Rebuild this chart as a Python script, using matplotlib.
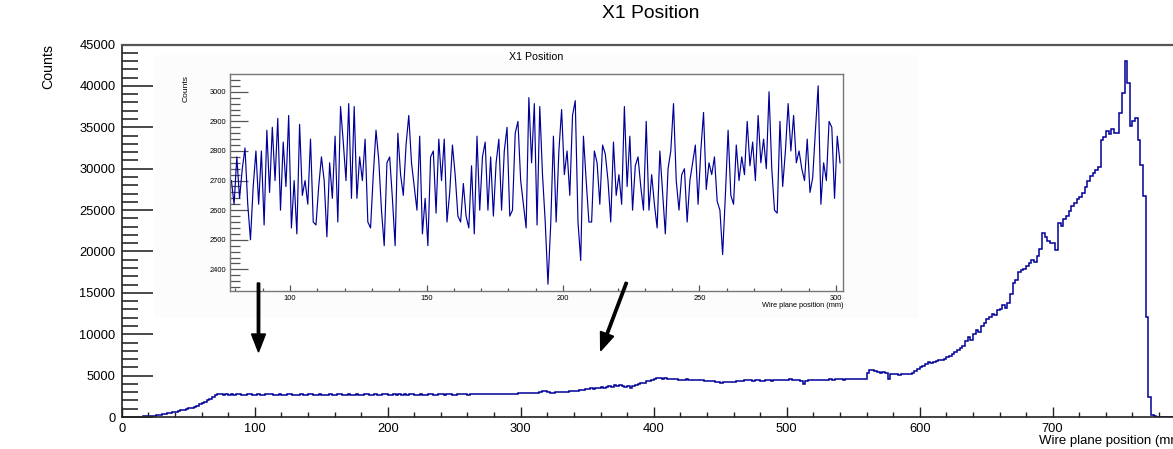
import numpy as np
import matplotlib
matplotlib.use("Agg")
import matplotlib.pyplot as plt
from matplotlib.ticker import MultipleLocator

plt.rcParams['font.family'] = ['Liberation Sans', 'DejaVu Sans']

# ---------------------------------------------------------------
# X1 wire-plane position histogram, 2 mm bins from 0 to 800 mm
# (ten bins per row = 20 mm per row)
# ---------------------------------------------------------------
main_bin_width = 2
main_counts = [
    0, 0, 0, 0, 30, 40, 50, 60, 70, 80,                                   # 0
    100, 110, 150, 200, 260, 330, 390, 450, 520, 600,                      # 20
    660, 730, 800, 880, 960, 1050, 1140, 1250, 1380, 1520,                 # 40
    1680, 1850, 2030, 2230, 2430, 2620, 2720, 2740, 2700, 2720,            # 60
    2680, 2750, 2690, 2730, 2760, 2700, 2670, 2720, 2780, 2710,            # 80
    2690, 2740, 2700, 2660, 2720, 2760, 2730, 2690, 2710, 2750,            # 100
    2700, 2680, 2740, 2770, 2700, 2660, 2700, 2730, 2690, 2710,            # 120
    2750, 2720, 2680, 2700, 2740, 2690, 2650, 2700, 2730, 2710,            # 140
    2680, 2720, 2760, 2700, 2690, 2730, 2680, 2710, 2740, 2700,            # 160
    2670, 2720, 2750, 2690, 2700, 2740, 2710, 2640, 2720, 2760,            # 180
    2700, 2690, 2730, 2710, 2750, 2700, 2720, 2680, 2740, 2770,            # 200
    2710, 2690, 2730, 2700, 2680, 2720, 2750, 2710, 2700, 2740,            # 220
    2720, 2690, 2730, 2760, 2710, 2700, 2740, 2720, 2750, 2730,            # 240
    2700, 2760, 2740, 2720, 2780, 2750, 2730, 2760, 2800, 2740,            # 260
    2770, 2790, 2760, 2800, 2780, 2820, 2790, 2830, 2810, 2850,            # 280
    2860, 2880, 2850, 2900, 2920, 2890, 2950, 2980, 3100, 3180,            # 300
    3000, 2880, 2950, 3000, 3040, 3020, 3080, 3060, 3100, 3120,            # 320
    3150, 3200, 3260, 3300, 3350, 3420, 3470, 3440, 3500, 3560,            # 340
    3590, 3560, 3640, 3700, 3660, 3900, 3750, 3870, 3800, 3670,            # 360
    3720, 3470, 3800, 3870, 3950, 4050, 4150, 4300, 4400, 4480,            # 380
    4550, 4700, 4760, 4650, 4720, 4600, 4560, 4620, 4580, 4500,            # 400
    4520, 4480, 4550, 4470, 4500, 4460, 4480, 4420, 4450, 4400,            # 420
    4380, 4350, 4300, 4280, 4220, 4070, 4200, 4250, 4230, 4280,            # 440
    4270, 4320, 4380, 4350, 4420, 4480, 4450, 4400, 4460, 4420,            # 460
    4380, 4400, 4450, 4420, 4380, 4430, 4480, 4450, 4500, 4480,            # 480
    4520, 4560, 4500, 4450, 4480, 4400, 4000, 4350, 4420, 4480,            # 500
    4480, 4450, 4500, 4520, 4480, 4530, 4560, 4500, 4540, 4580,            # 520
    4560, 4520, 4580, 4560, 4600, 4620, 4580, 4640, 4650, 4620,            # 540
    5300, 5700, 5720, 5600, 5450, 5300, 5450, 5350, 4600, 5250,            # 560
    5150, 5200, 5080, 5250, 5200, 5150, 5250, 5300, 5500, 5800,            # 580
    6000, 6200, 6350, 6690, 6500, 6600, 6750, 6900, 6850, 7000,            # 600
    7240, 7400, 7600, 7900, 8100, 8300, 8600, 9200, 9710, 9300,            # 620
    10000, 10500, 10300, 11000, 11340, 11800, 12100, 12500, 12300, 12940,  # 640
    13100, 13500, 13200, 13750, 14800, 16170, 16600, 17500, 17780, 17900,  # 660
    18200, 18600, 18990, 18700, 19500, 20300, 22220, 21800, 21300, 21000,  # 680
    21010, 20200, 23430, 23100, 23900, 24300, 24900, 25440, 25800, 26300,  # 700
    26600, 27060, 27800, 28500, 29070, 29500, 29880, 30200, 33510, 33800,  # 720
    34600, 34200, 34800, 34300, 34320, 36740, 39160, 42980, 40370, 35120,  # 740
    35800, 36130, 33510, 30500, 26650, 12130, 2460, 240, 100, 60,          # 760
    40, 20, 0, 0, 0, 0, 0, 0, 0, 0,                                        # 780
]
main_edges = np.arange(len(main_counts) + 1) * main_bin_width

# Zoomed view: 1 mm bins from 78 mm to 302 mm
inset_start = 78
inset_counts = [
    2700, 2620, 2780, 2640, 2740, 2810, 2620, 2500, 2680, 2800,   # 78
    2620, 2800, 2550, 2870, 2660, 2880, 2700, 2910, 2600, 2830,   # 88
    2680, 2920, 2540, 2700, 2520, 2890, 2650, 2700, 2620, 2840,   # 98
    2560, 2550, 2680, 2780, 2700, 2510, 2760, 2640, 2850, 2560,   # 108
    2950, 2830, 2700, 2960, 2640, 2950, 2640, 2780, 2700, 2840,   # 118
    2560, 2540, 2720, 2870, 2770, 2600, 2480, 2760, 2780, 2640,   # 128
    2480, 2860, 2720, 2650, 2820, 2920, 2760, 2680, 2600, 2850,   # 138
    2520, 2640, 2480, 2780, 2800, 2590, 2840, 2700, 2840, 2560,   # 148
    2660, 2820, 2720, 2580, 2560, 2690, 2580, 2540, 2750, 2520,   # 158
    2850, 2600, 2780, 2830, 2600, 2780, 2580, 2760, 2840, 2600,   # 168
    2800, 2880, 2580, 2600, 2860, 2900, 2700, 2620, 2540, 2980,   # 178
    2760, 2960, 2550, 2950, 2720, 2560, 2350, 2550, 2850, 2560,   # 188
    2800, 2940, 2720, 2800, 2650, 2920, 2970, 2560, 2430, 2850,   # 198
    2700, 2560, 2560, 2800, 2760, 2620, 2820, 2790, 2700, 2560,   # 208
    2830, 2650, 2720, 2620, 2950, 2680, 2850, 2600, 2750, 2780,   # 218
    2680, 2600, 2900, 2600, 2720, 2620, 2540, 2800, 2660, 2520,   # 228
    2740, 2800, 2960, 2700, 2600, 2720, 2740, 2560, 2700, 2760,   # 238
    2820, 2620, 2800, 2930, 2670, 2760, 2720, 2780, 2630, 2600,   # 248
    2450, 2650, 2870, 2650, 2620, 2820, 2700, 2780, 2720, 2900,   # 258
    2750, 2830, 2700, 2920, 2760, 2840, 2740, 3000, 2740, 2600,   # 268
    2590, 2900, 2680, 2800, 2960, 2800, 2920, 2760, 2800, 2740,   # 278
    2700, 2840, 2660, 2710, 2870, 3020, 2620, 2760, 2700, 2900,   # 288
    2880, 2640, 2850, 2760,                                       # 298
]
inset_centers = inset_start + np.arange(len(inset_counts)) + 0.5

line_color = '#000099'
frame_gray = '#555555'
W, H = 1173, 449

fig = plt.figure(figsize=(W / 100, H / 100), dpi=100, facecolor='white')


def px_box(x0, y0, x1, y1):
    """Convert a pixel box (top-left origin) to figure fractions."""
    return [x0 / W, 1 - y1 / H, (x1 - x0) / W, (y1 - y0) / H]


# ---------------- main histogram ----------------
ax = fig.add_axes(px_box(121.7, 44.5, 1185.7, 417), zorder=0)
ax.stairs(main_counts, main_edges, color=line_color, lw=1.1, baseline=None)
ax.set_xlim(0, 800)
ax.set_ylim(0, 45000)
ax.xaxis.set_major_locator(MultipleLocator(100))
ax.xaxis.set_minor_locator(MultipleLocator(20))
ax.yaxis.set_major_locator(MultipleLocator(5000))
ax.yaxis.set_minor_locator(MultipleLocator(1000))
ax.tick_params(axis='y', which='major', direction='in', length=22.5, width=1.3,
               color='#3a3a3a', labelsize=9.3, pad=4.5)
ax.tick_params(axis='y', which='minor', direction='in', length=11.5, width=1.3,
               color='#3a3a3a')
ax.tick_params(axis='x', which='major', direction='in', length=7.5, width=1.0,
               color='#222222', labelsize=9.3, pad=4)
ax.tick_params(axis='x', which='minor', direction='in', length=3.8, width=1.0,
               color='#222222')
for s in ('left', 'bottom'):
    ax.spines[s].set_color('#222222')
    ax.spines[s].set_linewidth(1.2)
ax.spines['top'].set_color(frame_gray)
ax.spines['top'].set_linewidth(1.6)
ax.spines['right'].set_visible(False)

fig.text(651 / W, 1 - 13 / H, 'X1 Position', ha='center', va='center', fontsize=13.9)
fig.text(48 / W, 1 - 44 / H, 'Counts', rotation=90, ha='center', va='top', fontsize=10.2)
fig.text(1185.7 / W, 1 - 441 / H, 'Wire plane position (mm)', ha='right', va='center',
         fontsize=9.5)

# ---------------- inset pad and zoomed histogram ----------------
pad = fig.add_axes(px_box(155, 55, 918, 318), zorder=1)
pad.set_facecolor('#fcfcfc')
pad.set_xticks([])
pad.set_yticks([])
for s in pad.spines.values():
    s.set_visible(False)

axi = fig.add_axes(px_box(230, 74.3, 843, 290.7), zorder=2)
axi.plot(inset_centers, inset_counts, color=line_color, lw=0.85)
axi.set_xlim(78.0, 302.6)
axi.set_ylim(2328, 3059)
axi.set_facecolor('white')
axi.xaxis.set_major_locator(MultipleLocator(50))
axi.xaxis.set_minor_locator(MultipleLocator(10))
axi.yaxis.set_major_locator(MultipleLocator(100))
axi.yaxis.set_minor_locator(MultipleLocator(20))
axi.tick_params(axis='y', which='major', direction='in', length=13, width=0.9,
                color='#555555', labelsize=5.4, pad=3)
axi.tick_params(axis='y', which='minor', direction='in', length=7, width=0.9,
                color='#555555')
axi.tick_params(axis='x', which='major', direction='in', length=4, width=0.9,
                color='#555555', labelsize=5.4, pad=3)
axi.tick_params(axis='x', which='minor', direction='in', length=2.2, width=0.9,
                color='#555555')
for s in axi.spines.values():
    s.set_color('#777777')
    s.set_linewidth(1.0)

fig.text(536.5 / W, 1 - 57 / H, 'X1 Position', ha='center', va='center', fontsize=7.7)
fig.text(186.5 / W, 1 - 75 / H, 'Counts', rotation=90, ha='center', va='top', fontsize=6.1)
fig.text(843 / W, 1 - 305.5 / H, 'Wire plane position (mm)', ha='right', va='center',
         fontsize=5.3)

# ---------------- arrows from the zoom to the full range ----------------
ov = fig.add_axes([0, 0, 1, 1], zorder=3)
ov.set_xlim(0, W)
ov.set_ylim(H, 0)
ov.axis('off')
ov.patch.set_alpha(0)
ov.arrow(258.5, 283, 0, 69, width=2.4, head_width=14, head_length=18,
         length_includes_head=True, color='black')
ov.arrow(626.5, 282.5, -25.8, 68.2, width=2.4, head_width=14, head_length=18,
         length_includes_head=True, color='black')

fig.savefig('out.png', dpi=100, facecolor='white')
